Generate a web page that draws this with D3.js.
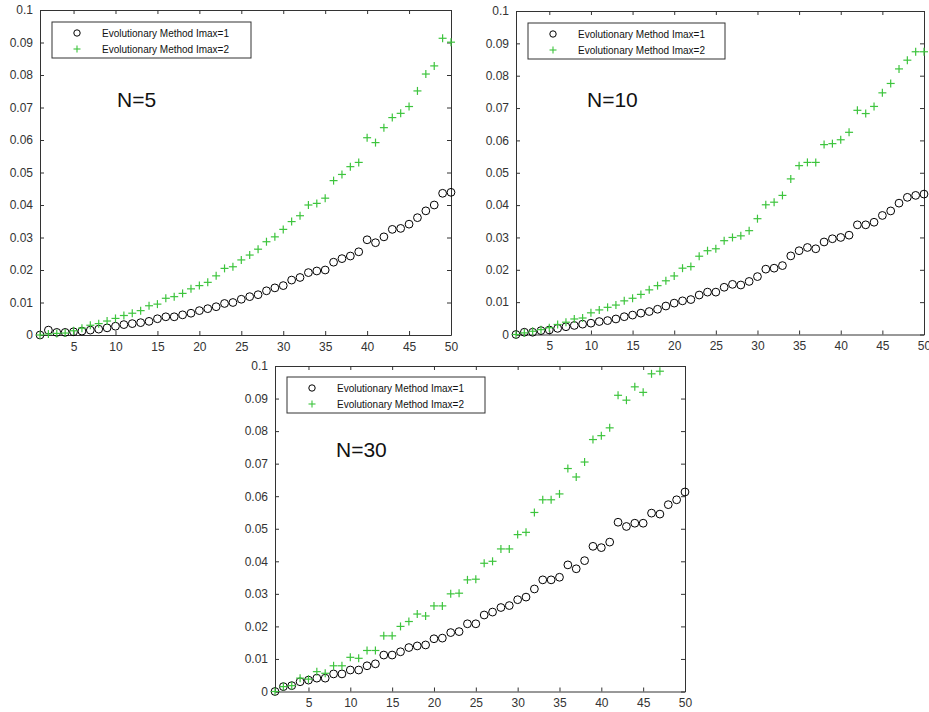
<!DOCTYPE html>
<html>
<head>
<meta charset="utf-8">
<style>
  body { margin: 0; background: #fff; }
  svg  { display: block; font-family: "Liberation Sans", Arial, sans-serif; }
  .axis text { font-size: 12px; fill: #333; }
  .axis path, .axis line { stroke: #333; }
</style>
<title>Evolutionary Method</title>
</head>
<body>
<script src="https://cdn.jsdelivr.net/npm/d3@7"></script>
<script>

// ---- data
var iterations = [1,2,3,4,5,6,7,8,9,10,11,12,13,14,15,16,17,18,19,20,21,22,23,24,25,
                  26,27,28,29,30,31,32,33,34,35,36,37,38,39,40,41,42,43,44,45,46,47,48,49,50];

var n5_imax1 = [0,0.0015,0.0008,0.0008,0.001,0.0012,0.0015,0.0018,0.0022,0.0027,
                0.0032,0.0035,0.0038,0.0042,0.005,0.0056,0.0056,0.0062,0.0067,0.0075,
                0.0081,0.0087,0.0097,0.0100,0.011,0.0118,0.0124,0.0136,0.0145,0.0152,
                0.0169,0.0177,0.0192,0.0197,0.0200,0.0224,0.0235,0.0243,0.0256,0.0293,
                0.0284,0.0302,0.0325,0.0328,0.0341,0.0361,0.0382,0.0400,0.0436,0.0439];
var n5_imax2 = [0,0.0003,0.0005,0.0006,0.0013,0.0021,0.003,0.0035,0.0043,0.0051,
                0.006,0.0067,0.0075,0.009,0.0095,0.0113,0.0118,0.0128,0.0142,0.0152,
                0.0162,0.0182,0.0205,0.021,0.0231,0.0246,0.0264,0.0287,0.0302,0.0325,
                0.0349,0.0367,0.040,0.0405,0.0421,0.0475,0.0494,0.0518,0.0531,0.0607,
                0.0592,0.0638,0.0669,0.0682,0.0703,0.0751,0.0803,0.0828,0.0913,0.0901];

var n10_imax1 = [0,0.0007,0.0007,0.0012,0.0014,0.0019,0.0024,0.0028,0.0032,0.0035,
                 0.004,0.0043,0.0048,0.0055,0.006,0.0066,0.0071,0.0078,0.0088,0.0097,
                 0.0104,0.0108,0.0122,0.0131,0.0131,0.0146,0.0155,0.0153,0.0164,0.0179,
                 0.0202,0.0205,0.0213,0.0243,0.0259,0.0269,0.0265,0.0286,0.0296,0.030,
                 0.0307,0.0339,0.0339,0.0347,0.0368,0.0382,0.0406,0.0424,0.043,0.0434];
var n10_imax2 = [0,0.0005,0.001,0.0015,0.0021,0.0031,0.0038,0.0048,0.0051,0.0067,
                 0.0076,0.0084,0.0091,0.0104,0.0112,0.0124,0.0138,0.0151,0.0166,0.0181,
                 0.0205,0.021,0.0242,0.0259,0.0265,0.029,0.030,0.0305,0.0321,0.0358,
                 0.0401,0.0409,0.043,0.0481,0.0522,0.0532,0.0532,0.0587,0.059,0.0602,
                 0.0625,0.0693,0.0683,0.0705,0.0747,0.0776,0.0821,0.0848,0.0874,0.0874];

var n30_imax1 = [0,0.0015,0.0018,0.003,0.0035,0.0041,0.0041,0.0054,0.0054,0.0066,
                 0.0066,0.0079,0.0085,0.0112,0.0112,0.0122,0.0135,0.014,0.0143,0.0162,
                 0.0164,0.0181,0.0184,0.0208,0.0208,0.0235,0.0244,0.0258,0.0264,0.0282,
                 0.029,0.0315,0.0343,0.0343,0.0351,0.0389,0.0377,0.0402,0.0446,0.0442,
                 0.0459,0.052,0.0507,0.0517,0.0517,0.0548,0.0545,0.0574,0.0589,0.0613];
// points above 0.1 (iterations 48-50) are cut off in the figure
var n30_imax2 = [0,0.0015,0.0018,0.0041,0.0038,0.0061,0.0056,0.0079,0.0079,0.0105,
                 0.0102,0.0126,0.0126,0.0171,0.0171,0.020,0.0215,0.0238,0.0232,0.0263,
                 0.0263,0.030,0.0302,0.0343,0.0345,0.0394,0.040,0.0438,0.0438,0.0482,
                 0.0489,0.055,0.0589,0.0589,0.0607,0.0685,0.0659,0.0705,0.0774,0.0786,
                 0.081,0.091,0.0895,0.0936,0.0919,0.0976,0.0984];

var yTicks = [0,0.01,0.02,0.03,0.04,0.05,0.06,0.07,0.08,0.09,0.1];
var xTicks = [5,10,15,20,25,30,35,40,45,50];
var legendLabels = ["Evolutionary Method Imax=1", "Evolutionary Method Imax=2"];
var panelTitles = ["N=5", "N=10", "N=30"];

// ---- layout of the three pasted panels
var panels = [
  {title: panelTitles[0], a: n5_imax1,  b: n5_imax2,  left: 40,  right: 451, top: 10,  bottom: 335,
   leg: {x: 52,  y: 22,  w: 199}, tx: 117, ty: 107},
  {title: panelTitles[1], a: n10_imax1, b: n10_imax2, left: 516, right: 924, top: 11,  bottom: 334.5,
   leg: {x: 528, y: 23,  w: 197}, tx: 587, ty: 107},
  {title: panelTitles[2], a: n30_imax1, b: n30_imax2, left: 275, right: 685, top: 366, bottom: 691.5,
   leg: {x: 287, y: 377, w: 198}, tx: 336, ty: 457}
];

var green = "#3dc43d";

var svg = d3.select("body").append("svg")
    .attr("width", 929)
    .attr("height", 712);

function plus(sel, s) {
  sel.append("line").attr("x1", -s).attr("x2", s).attr("y1", 0).attr("y2", 0);
  sel.append("line").attr("x1", 0).attr("x2", 0).attr("y1", -s).attr("y2", s);
}

panels.forEach(function(p) {
  var g = svg.append("g");

  var x = d3.scaleLinear().domain([1, 50]).range([p.left, p.right]);
  var y = d3.scaleLinear().domain([0, 0.1]).range([p.bottom, p.top]);

  // axes, ticks pointing inwards like matlab's box
  g.append("g").attr("class", "axis")
    .attr("transform", "translate(" + p.left + ",0)")
    .call(d3.axisLeft(y).tickValues(yTicks).tickSizeInner(-4).tickSizeOuter(0)
      .tickPadding(7).tickFormat(function(d) { return String(d); }));

  g.append("g").attr("class", "axis")
    .attr("transform", "translate(0," + p.bottom + ")")
    .call(d3.axisBottom(x).tickValues(xTicks).tickSizeInner(-4).tickSizeOuter(0)
      .tickPadding(7));

  g.append("g").attr("class", "axis")
    .attr("transform", "translate(0," + p.top + ")")
    .call(d3.axisTop(x).tickValues(xTicks).tickSizeInner(-4).tickSizeOuter(0).tickFormat(""));

  g.append("g").attr("class", "axis")
    .attr("transform", "translate(" + p.right + ",0)")
    .call(d3.axisRight(y).tickValues(yTicks).tickSizeInner(-4).tickSizeOuter(0).tickFormat(""));

  g.selectAll(".axis text").attr("font-family", null);

  // Imax=1 circles
  g.append("g").selectAll("circle")
    .data(p.a)
    .enter().append("circle")
    .attr("cx", function(d, i) { return x(iterations[i]); })
    .attr("cy", function(d) { return y(d); })
    .attr("r", 3.9)
    .attr("fill", "none")
    .attr("stroke", "#000")
    .attr("stroke-width", 1);

  // Imax=2 plus signs
  g.append("g").selectAll("g")
    .data(p.b)
    .enter().append("g")
    .attr("transform", function(d, i) { return "translate(" + x(iterations[i]) + "," + y(d) + ")"; })
    .attr("stroke", green)
    .attr("stroke-width", 1.2)
    .each(function() { plus(d3.select(this), 4); });

  // legend
  var leg = g.append("g").attr("transform", "translate(" + p.leg.x + "," + p.leg.y + ")");
  leg.append("rect")
    .attr("width", p.leg.w).attr("height", 36)
    .attr("fill", "#fff").attr("stroke", "#333").attr("stroke-width", 1);
  leg.append("circle")
    .attr("cx", 25).attr("cy", 11).attr("r", 3.2)
    .attr("fill", "none").attr("stroke", "#000");
  leg.append("g")
    .attr("transform", "translate(25,27)")
    .attr("stroke", green).attr("stroke-width", 1.1)
    .each(function() { plus(d3.select(this), 3.5); });
  leg.selectAll("text")
    .data(legendLabels)
    .enter().append("text")
    .attr("x", 50)
    .attr("y", function(d, i) { return 11 + i * 16; })
    .attr("dy", "0.35em")
    .attr("font-size", "10px")
    .attr("fill", "#111")
    .text(function(d) { return d; });

  // N= label
  g.append("text")
    .attr("x", p.tx).attr("y", p.ty)
    .attr("font-size", "21px")
    .attr("fill", "#111")
    .text(p.title);
});

</script>
</body>
</html>
